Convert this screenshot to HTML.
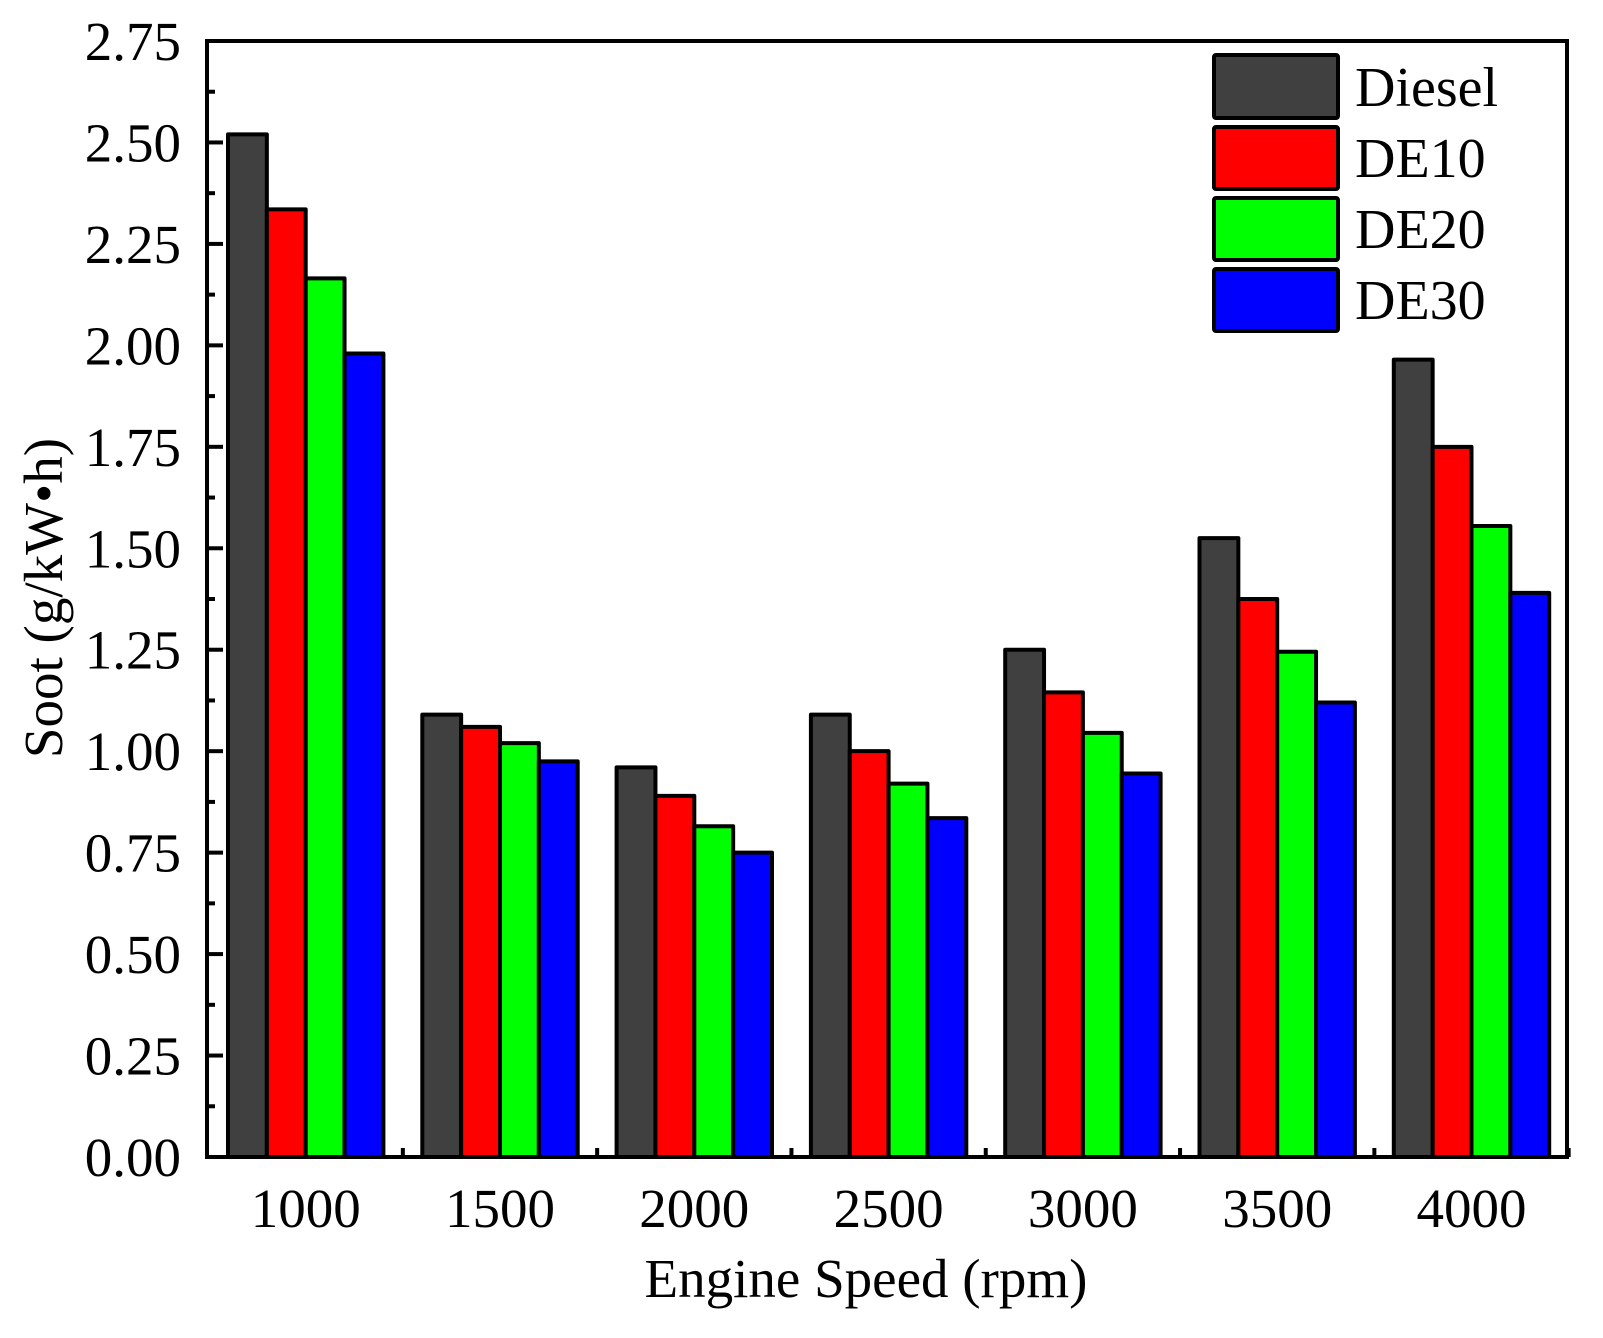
<!DOCTYPE html>
<html><head><meta charset="utf-8"><style>html,body{margin:0;padding:0;background:#fff}</style></head>
<body>
<svg xmlns="http://www.w3.org/2000/svg" width="1603" height="1333" viewBox="0 0 1603 1333" font-family="Liberation Serif, serif">
<rect width="1603" height="1333" fill="#fff"/>
<g id="bars" stroke="#000" stroke-width="4" stroke-linejoin="round"></g>
<g id="axes"></g>
<g font-size="55" text-anchor="end" id="ylab"></g>
<g font-size="55" text-anchor="middle" id="xlab"></g>
<text x="866" y="1297" font-size="55" text-anchor="middle">Engine Speed (rpm)</text>
<text transform="translate(62,598) rotate(-90)" font-size="55" text-anchor="middle">Soot (g/kW•h)</text>
<g stroke="#000" stroke-width="4">
<rect x="1214" y="55" width="124" height="63" fill="#404040" rx="2"/>
<rect x="1214" y="127" width="124" height="62" fill="#ff0000" rx="2"/>
<rect x="1214" y="198" width="124" height="62" fill="#00ff00" rx="2"/>
<rect x="1214" y="269" width="124" height="62" fill="#0000ff" rx="2"/>
</g>
<g font-size="56">
<text x="1355" y="106">Diesel</text>
<text x="1355" y="177">DE10</text>
<text x="1355" y="248">DE20</text>
<text x="1355" y="319">DE30</text>
</g>
<script>
var ns="http://www.w3.org/2000/svg";
function el(p,t,a,txt){var e=document.createElementNS(ns,t);for(var k in a)e.setAttribute(k,a[k]);if(txt)e.textContent=txt;document.getElementById(p).appendChild(e);}
var y0=1157,sc=(1157-41)/2.75;
var data=[[2.52,2.335,2.165,1.98],[1.09,1.06,1.02,0.975],[0.96,0.89,0.815,0.75],[1.09,1.0,0.92,0.835],[1.25,1.145,1.045,0.945],[1.525,1.375,1.245,1.12],[1.965,1.75,1.555,1.39]];
var cols=["#404040","#ff0000","#00ff00","#0000ff"];
var gs=194.3,bw=38.85,x0=228;
var labs=["1000","1500","2000","2500","3000","3500","4000"];
for(var g=0;g<7;g++){for(var i=0;i<4;i++){var v=data[g][i];var x=x0+g*gs+i*bw;el("bars","rect",{x:x,y:y0-v*sc,width:bw,height:v*sc,fill:cols[i]});}
el("xlab","text",{x:x0+g*gs+2*bw,y:1227},labs[g]);
if(g>0)el("axes","line",{x1:x0+g*gs-gs/2+bw*0.0+ (gs-4*bw)/2 - (gs-4*bw)/2 ,y1:y0,x2:0,y2:0});}
</script>
<g stroke="#000" stroke-width="4" fill="none" id="ax2"></g>
<script>
var a=document.getElementById("axes");while(a.firstChild)a.removeChild(a.firstChild);
var p="ax2";
el(p,"path",{d:"M207,41 L1567,41 L1567,1157 L207,1157 Z","stroke-linecap":"square"});
for(var k=0;k<=22;k++){var v=k*0.125;var y=y0-v*sc;var len=(k%2==0)?16:8;el(p,"line",{x1:207,y1:y,x2:207+len,y2:y});
if(k%2==0)el("ylab","text",{x:181,y:y+19},v.toFixed(2));}
for(var g=0;g<7;g++){var xm=x0+g*gs+4*bw+(gs-4*bw)/2;el(p,"line",{x1:xm,y1:y0,x2:xm,y2:y0-9});}
</script>
</svg>
</body></html>
